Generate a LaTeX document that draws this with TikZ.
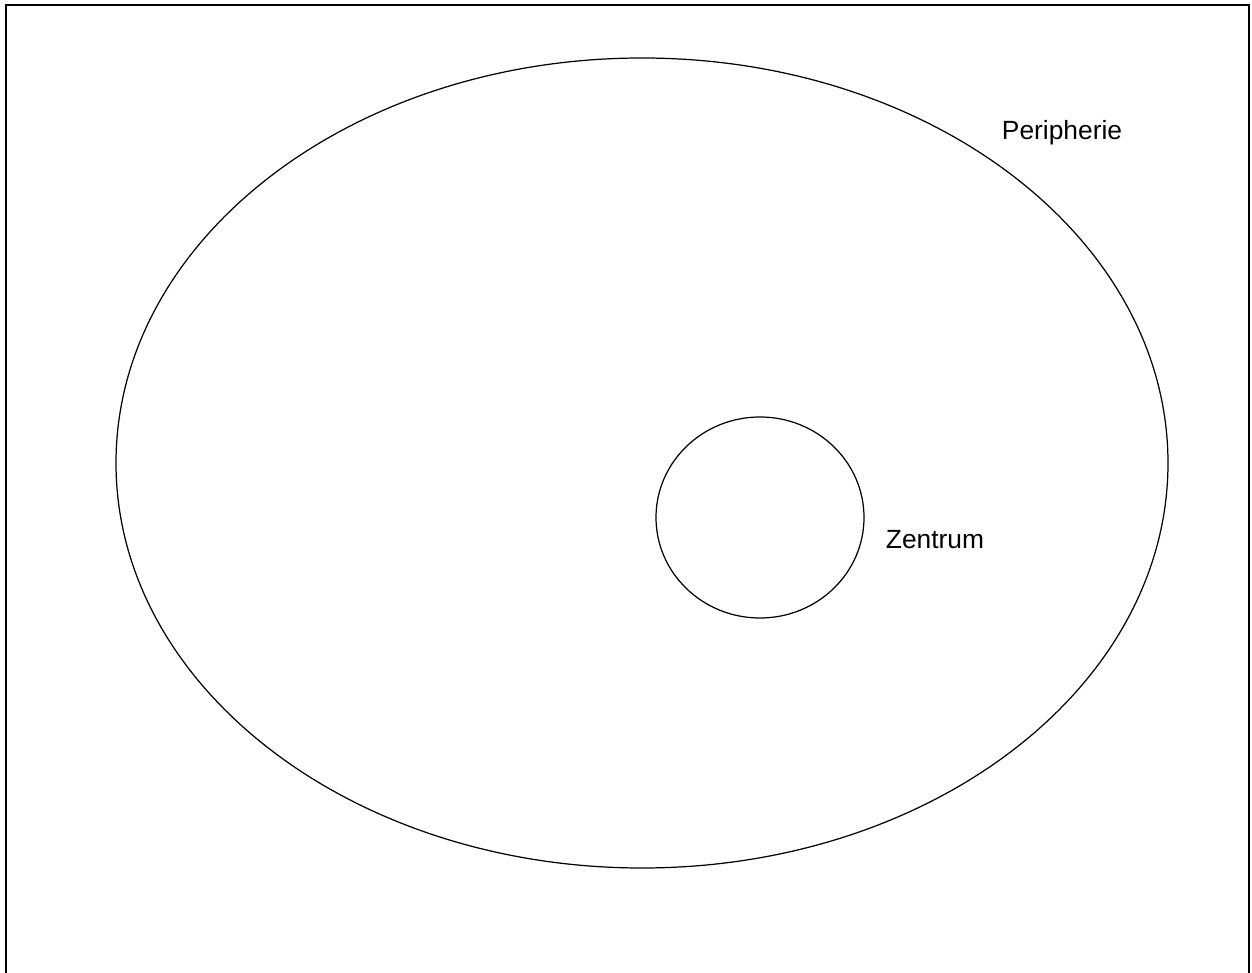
\documentclass[tikz,border=0pt]{standalone}
\usepackage{fontspec}
\setmainfont{Liberation Sans}
\begin{document}
\begin{tikzpicture}[x=0.02cm, y=-0.02cm, every node/.style={font=\fontsize{15}{18}\selectfont}]
	\useasboundingbox (0,0) rectangle (1252,973);
	% Rahmen (unten offen)
	\draw[line width=1.3pt] (6,973) -- (6,5) -- (1249,5) -- (1249,973);
	
	% Peripherie: grosse Ellipse
	\draw[line width=0.7pt] (642,463) ellipse [x radius=526, y radius=405];
	\node (peripherie) at (1062,133) {Peripherie};
	
	% Zentrum: kleiner Kreis
	\draw[line width=0.7pt] (760,517.5) ellipse [x radius=104, y radius=100.5];
	\node (zentrum) at (935,540) {Zentrum};
\end{tikzpicture}
\end{document}
